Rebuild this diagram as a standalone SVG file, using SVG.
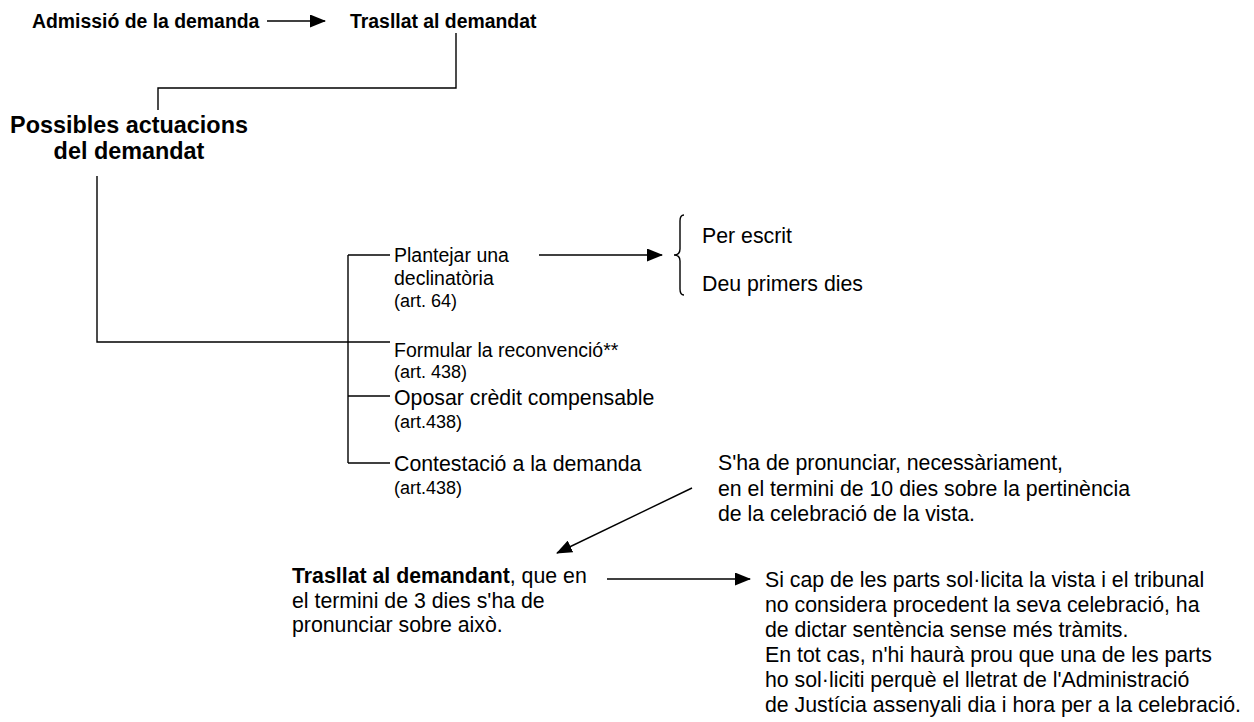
<svg xmlns="http://www.w3.org/2000/svg" width="1254" height="722" viewBox="0 0 1254 722">
<style>
text{font-family:"Liberation Sans",Arial,sans-serif;fill:#000}
.b{font-weight:bold}
.top{font-size:19.4px;font-weight:bold}
.big{font-size:23.4px;font-weight:bold}
.m{font-size:19.5px}
.l{font-size:21.3px}
.s{font-size:18px}
.ln{stroke:#000;stroke-width:1.4;fill:none}
</style>
<defs>
<marker id="ah" markerWidth="16" markerHeight="13" refX="15" refY="6.5" orient="auto" markerUnits="userSpaceOnUse">
<path d="M0,0 L16,6.5 L0,13 Z" fill="#000"/>
</marker>
</defs>
<rect width="1254" height="722" fill="#fff"/>
<g id="connectors">
<line class="ln" x1="267" y1="21" x2="325" y2="21" marker-end="url(#ah)"/>
<polyline class="ln" points="456,33 456,88 158,88 158,110"/>
<polyline class="ln" points="97,176 97,342 348,342"/>
<line class="ln" x1="348" y1="255" x2="348" y2="463"/>
<line class="ln" x1="348" y1="255" x2="390" y2="255"/>
<line class="ln" x1="348" y1="342" x2="390" y2="342"/>
<line class="ln" x1="348" y1="396" x2="390" y2="396"/>
<line class="ln" x1="348" y1="463" x2="390" y2="463"/>
<line class="ln" x1="539" y1="255" x2="662" y2="255" marker-end="url(#ah)"/>
<path class="ln" d="M684,215 Q680,215 680,221 L680,249 Q680,255 674,255 Q680,255 680,261 L680,289 Q680,295 684,295"/>
<line class="ln" x1="692" y1="488" x2="557" y2="553" marker-end="url(#ah)"/>
<line class="ln" x1="607" y1="579" x2="750" y2="579" marker-end="url(#ah)"/>
</g>
<g id="n-admissio"><text class="top" x="32" y="28">Admissió de la demanda</text></g>
<g id="n-trasllat-demandat"><text class="top" x="350" y="28">Trasllat al demandat</text></g>
<g id="n-possibles">
<text class="big" x="129" y="133" text-anchor="middle">Possibles actuacions</text>
<text class="big" x="129" y="159" text-anchor="middle">del demandat</text>
</g>
<g id="n-declinatoria">
<text class="m" x="394" y="262">Plantejar una</text>
<text class="m" x="394" y="285">declinatòria</text>
<text class="s" x="394" y="307">(art. 64)</text>
</g>
<g id="n-reconvencio">
<text class="m" x="394" y="357">Formular la reconvenció**</text>
<text class="s" x="394" y="378">(art. 438)</text>
</g>
<g id="n-oposar">
<text class="l" x="394" y="405">Oposar crèdit compensable</text>
<text class="s" x="394" y="428">(art.438)</text>
</g>
<g id="n-contestacio">
<text class="l" x="394" y="471">Contestació a la demanda</text>
<text class="s" x="394" y="494">(art.438)</text>
</g>
<g id="n-brace">
<text class="l" x="702" y="243">Per escrit</text>
<text class="l" x="702" y="291">Deu primers dies</text>
</g>
<g id="n-pronunciar">
<text class="l" x="718" y="470">S'ha de pronunciar, necessàriament,</text>
<text class="l" x="718" y="495.5">en el termini de 10 dies sobre la pertinència</text>
<text class="l" x="718" y="521">de la celebració de la vista.</text>
</g>
<g id="n-trasllat-demandant">
<text class="l" x="292" y="583"><tspan class="b">Trasllat al demandant</tspan>, que en</text>
<text class="l" x="292" y="607.5">el termini de 3 dies s'ha de</text>
<text class="l" x="292" y="632">pronunciar sobre això.</text>
</g>
<g id="n-vista">
<text class="l" x="765" y="587">Si cap de les parts sol·licita la vista i el tribunal</text>
<text class="l" x="765" y="612">no considera procedent la seva celebració, ha</text>
<text class="l" x="765" y="637">de dictar sentència sense més tràmits.</text>
<text class="l" x="765" y="662">En tot cas, n'hi haurà prou que una de les parts</text>
<text class="l" x="765" y="687">ho sol·liciti perquè el lletrat de l'Administració</text>
<text class="l" x="765" y="712">de Justícia assenyali dia i hora per a la celebració.</text>
</g>
</svg>
